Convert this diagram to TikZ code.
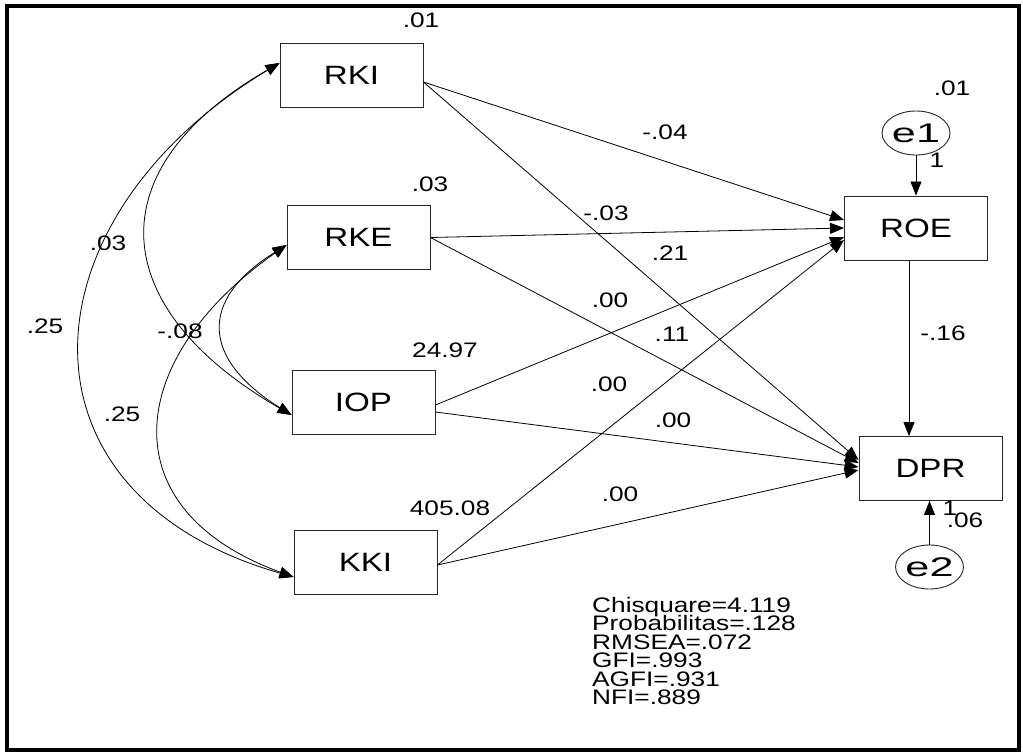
\documentclass[tikz,border=0pt]{standalone}
\usepackage{fontspec}
\setmainfont[FakeStretch=1.25]{Liberation Sans}
\newfontfamily\efont[FakeStretch=1.6]{Liberation Sans}
\usetikzlibrary{arrows.meta,shapes.geometric}
\begin{document}
\begin{tikzpicture}[x=1pt, y=-1pt,
    var/.style={draw=black!85, line width=0.9pt, minimum width=143pt, minimum height=64pt, inner sep=0pt, font=\fontsize{26.5}{30}\selectfont},
    err/.style={draw=black!85, line width=0.9pt, ellipse, minimum width=64pt, minimum height=44pt, inner sep=0pt, font=\efont\fontsize{27}{30}\selectfont},
    est/.style={inner sep=0pt, font=\fontsize{21}{24}\selectfont},
    fitline/.style={est, anchor=base west},
    reg/.style={line width=0.8pt, -{Triangle[length=14pt,width=11pt]}},
    cov/.style={line width=0.8pt, {Triangle[length=14pt,width=11pt]}-{Triangle[length=14pt,width=11pt]}}]
    \useasboundingbox (0,0) rectangle (1023,753);
    \draw[line width=4pt] (7,6) rectangle (1019,750);
    % observed variables
    \node[var] (RKI) at (351.5,75) {RKI};
    \node[var] (RKE) at (358.5,237.5) {RKE};
    \node[var] (IOP) at (363.5,402.5) {IOP};
    \node[var] (KKI) at (365.5,562) {KKI};
    \node[var] (ROE) at (916,228) {ROE};
    \node[var] (DPR) at (930.5,468.5) {DPR};
    \node[err] (e1) at (916,133) {e1};
    \node[err] (e2) at (929.5,567) {e2};
    % variances
    \node[est] (vRKI) at (421,20) {.01};
    \node[est] (vRKE) at (430,184) {.03};
    \node[est] (vIOP) at (445,350) {24.97};
    \node[est] (vKKI) at (450,508) {405.08};
    \node[est] (ve1) at (952,88) {.01};
    \node[est] (ve2) at (965,520) {.06};
    \node[est] (we1) at (937,160) {1};
    \node[est] (we2) at (950,508) {1};
    % regression weights
    \draw[reg] ([yshift=-7pt]RKI.east) -- ([yshift=8pt]ROE.west);
    \draw[reg] ([yshift=-7pt]RKI.east) -- ([yshift=8.5pt]DPR.west);
    \draw[reg] (RKE.east) -- (ROE.west);
    \draw[reg] (RKE.east) -- ([yshift=5.5pt]DPR.west);
    \draw[reg] ([yshift=-2.5pt]IOP.east) -- ([yshift=-9pt]ROE.west);
    \draw[reg] ([yshift=-9.5pt]IOP.east) -- ([yshift=1.5pt]DPR.west);
    \draw[reg] ([yshift=-3pt]KKI.east) -- ([yshift=-12pt]ROE.west);
    \draw[reg] ([yshift=-3pt]KKI.east) -- ([yshift=-1.5pt]DPR.west);
    \draw[reg] ([xshift=-7pt]ROE.south) -- ([xshift=-7pt]ROE.south |- DPR.north);
    \draw[reg] (e1.south) -- (ROE.north);
    \draw[reg] (e2.north) -- (e2.north |- DPR.south);
    \node[est] (bRKIROE) at (665,132) {-.04};
    \node[est] (bRKIDPR) at (606,213) {-.03};
    \node[est] (bRKEROE) at (670,253) {.21};
    \node[est] (bRKEDPR) at (610,300) {.00};
    \node[est] (bIOPROE) at (672,334) {.11};
    \node[est] (bKKIROE) at (609,384) {.00};
    \node[est] (bIOPDPR) at (673,420) {.00};
    \node[est] (bKKIDPR) at (620,494) {.00};
    \node[est] (bROEDPR) at (943,333) {-.16};
    % covariances
    \draw[cov] ([yshift=12pt]RKI.west) to[out=211,in=164,looseness=1.5] ([yshift=-15pt]KKI.west);
    \draw[cov] ([yshift=12pt]RKI.west) to[out=210,in=150,looseness=1.55] ([yshift=-12.5pt]IOP.west);
    \draw[cov] ([yshift=-7.5pt]RKE.west) to[out=212,in=148,looseness=1.58] ([yshift=-12.5pt]IOP.west);
    \draw[cov] ([yshift=-7.5pt]RKE.west) to[out=215,in=160,looseness=1.52] ([yshift=-15pt]KKI.west);
    \node[est] (cRKIIOP) at (108,243) {.03};
    \node[est] (cRKIKKI) at (45,326) {.25};
    \node[est] (cRKEIOP) at (180,331) {-.08};
    \node[est] (cRKEKKI) at (122,414) {.25};
    % fit
    \node[fitline] (chi) at (592,612) {Chisquare=4.119};
    \node[fitline] (prob) at (592,630.5) {Probabilitas=.128};
    \node[fitline] (rmsea) at (592,649) {RMSEA=.072};
    \node[fitline] (gfi) at (592,667.5) {GFI=.993};
    \node[fitline] (agfi) at (592,686) {AGFI=.931};
    \node[fitline] (nfi) at (592,704.5) {NFI=.889};
\end{tikzpicture}
\end{document}
